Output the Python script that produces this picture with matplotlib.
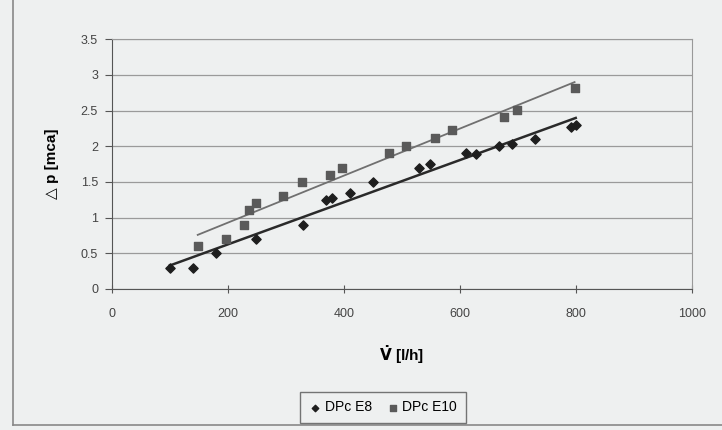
import numpy as np
from matplotlib import pyplot as plt

plt.rcParams['font.family'] = ['Liberation Sans', 'DejaVu Sans']
plt.rcParams['mathtext.fontset'] = 'dejavusans'

# DPc E8 (diamonds)
v_e8 = [100, 140, 180, 248, 330, 370, 380, 410, 450, 530, 548, 610, 628, 668, 690, 730, 792, 800]
dp_e8 = [0.3, 0.3, 0.5, 0.7, 0.9, 1.25, 1.28, 1.35, 1.5, 1.69, 1.75, 1.9, 1.89, 2.0, 2.03, 2.1, 2.27, 2.3]

# DPc E10 (squares)
v_e10 = [148, 196, 228, 237, 248, 295, 328, 377, 397, 478, 508, 557, 587, 676, 698, 798]
dp_e10 = [0.6, 0.7, 0.9, 1.1, 1.2, 1.3, 1.5, 1.6, 1.7, 1.9, 2.0, 2.12, 2.22, 2.41, 2.51, 2.81]

bg = '#eef0f0'
fig = plt.figure(figsize=(7.22, 4.30), dpi=100, facecolor=bg)
ax = fig.add_axes([0.155, 0.328, 0.803, 0.581])
ax.set_facecolor(bg)

# linear trend lines
for vx, vy, col, lw in [(v_e8, dp_e8, '#2a2a2a', 1.8), (v_e10, dp_e10, '#707070', 1.3)]:
    k, d = np.polyfit(vx, vy, 1)
    xs = np.array([min(vx), max(vx)])
    ax.plot(xs, k * xs + d, color=col, lw=lw, zorder=2)

ax.scatter(v_e8, dp_e8, marker='D', s=22, color='#1e1e1e', zorder=3, label='DPc E8')
ax.scatter(v_e10, dp_e10, marker='s', s=30, color='#5a5a5a', zorder=3, label='DPc E10')

ax.set_xlim(0, 1000)
ax.set_ylim(0, 3.5)
ax.set_xticks(np.arange(0, 1001, 200))
ax.set_yticks(np.arange(0, 3.51, 0.5))
ax.set_yticklabels(['0', '0.5', '1', '1.5', '2', '2.5', '3', '3.5'])
ax.yaxis.grid(True, color='#9a9a9a', lw=0.9)
ax.set_axisbelow(True)
ax.tick_params(axis='x', direction='inout', length=6, labelsize=9, pad=11,
               color='#555555', labelcolor='#444444')
ax.tick_params(axis='y', direction='out', length=5, labelsize=9, pad=5,
               color='#555555', labelcolor='#444444')
for s in ['left', 'bottom']:
    ax.spines[s].set_color('#555555')
for s in ['right', 'top']:
    ax.spines[s].set_color('#999999')

ax.set_ylabel('△ p [mca]', fontsize=11, fontweight='bold', labelpad=16,
              family=['Liberation Sans', 'DejaVu Sans'])
ax.set_xlabel(r'$\mathbf{\dot{V}}$ [l/h]', fontsize=11, fontweight='bold', labelpad=16)

leg = fig.legend(loc='center', bbox_to_anchor=(0.53, 0.053), ncol=2, fontsize=10,
                 frameon=True, fancybox=False, edgecolor='#555555', facecolor=bg,
                 handletextpad=0.2, columnspacing=1.0, handlelength=1.0, borderpad=0.6,
                 borderaxespad=0.0, markerscale=0.7)
leg.get_frame().set_linewidth(1.0)

# outer chart border (left and bottom visible in the scan)
fig.add_artist(plt.Line2D([0.018, 0.018], [0.012, 1.0], transform=fig.transFigure,
                          color='#888888', lw=1.2))
fig.add_artist(plt.Line2D([0.018, 1.0], [0.012, 0.012], transform=fig.transFigure,
                          color='#888888', lw=1.2))

plt.savefig('out.png', dpi=100, facecolor=bg)
